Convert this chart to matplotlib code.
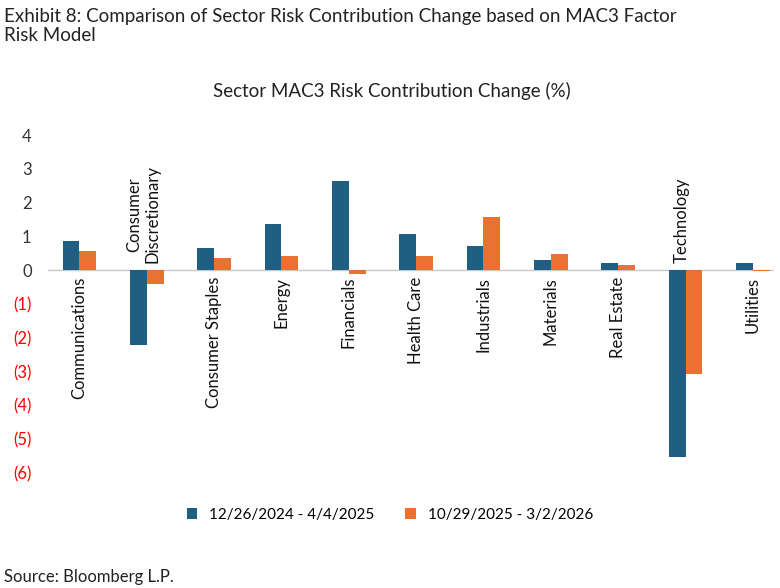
import matplotlib
matplotlib.use("Agg")
import matplotlib.pyplot as plt
import numpy as np

plt.rcParams['font.family'] = ['Lato', 'DejaVu Sans']

categories = ["Communications", "Consumer\nDiscretionary", "Consumer Staples", "Energy",
              "Financials", "Health Care", "Industrials", "Materials", "Real Estate",
              "Technology", "Utilities"]
series1 = [0.86, -2.2, 0.65, 1.37, 2.65, 1.07, 0.71, 0.30, 0.21, -5.53, 0.21]
series2 = [0.57, -0.42, 0.36, 0.42, -0.12, 0.42, 1.58, 0.48, 0.15, -3.07, -0.03]
label_above = [False, True, False, False, False, False, False, False, False, True, False]
series_names = ["12/26/2024 - 4/4/2025", "10/29/2025 - 3/2/2026"]
yticks = [4, 3, 2, 1, 0, -1, -2, -3, -4, -5, -6]

blue = "#1f5f82"
orange = "#e97132"

fig = plt.figure(figsize=(7.8, 5.88), dpi=100)
ax = fig.add_axes([0.062, 0.19, 0.93, 0.586])
x = np.arange(len(categories))
w = 0.25
ax.bar(x - w/2, series1, w, color=blue, label=series_names[0])
ax.bar(x + w/2, series2, w, color=orange, label=series_names[1])
ax.axhline(0, color="#c8c8c8", lw=1, zorder=0)
ax.set_ylim(-6.1, 4.1)
ax.set_xlim(-0.46, 10.31)
ax.set_yticks(yticks)
ax.set_yticklabels([str(t) if t >= 0 else f"({-t})" for t in yticks], fontsize=12)
for lbl, t in zip(ax.get_yticklabels(), yticks):
    lbl.set_color("red" if t < 0 else "#333333")
ax.tick_params(axis='y', length=0, pad=12)
ax.set_xticks([])
for s in ax.spines.values():
    s.set_visible(False)
for xi, c, above in zip(x, categories, label_above):
    if above:
        ax.text(xi - 0.05, 0.2, c, rotation=90, ha='center', va='bottom', fontsize=12, color="#111111")
    else:
        ax.text(xi, -0.2, c, rotation=90, ha='center', va='top', fontsize=12, color="#111111")

fig.text(0.273, 0.835, "Sector MAC3 Risk Contribution Change (%)", fontsize=13.5, color="#222222")
fig.text(0.005, 0.925, "Exhibit 8: Comparison of Sector Risk Contribution Change based on MAC3 Factor\nRisk Model",
         fontsize=13.5, color="#222222", va='bottom', linespacing=1.15)
fig.text(0.005, 0.01, "Source: Bloomberg L.P.", fontsize=12, color="#222222")
fig.legend(loc='center', bbox_to_anchor=(0.5, 0.125), ncol=2, frameon=False, fontsize=11,
           handlelength=0.7, handleheight=0.7, columnspacing=2)
fig.savefig("out.png", dpi=100)
